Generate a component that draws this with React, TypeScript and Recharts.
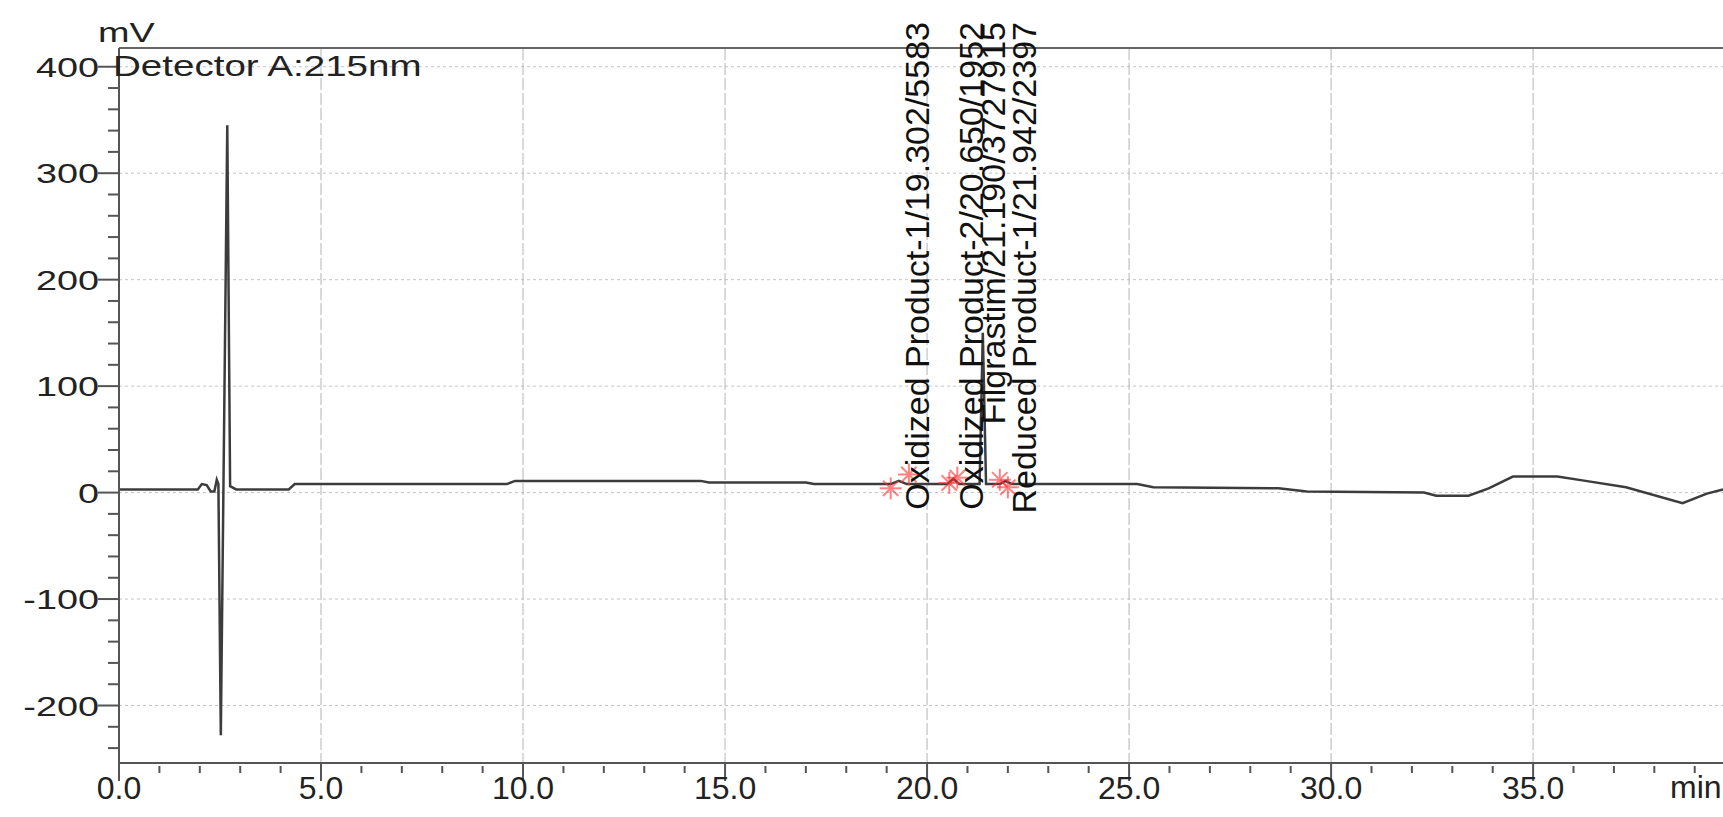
import React from "react"
import { ComposedChart, Line, Scatter, XAxis, YAxis, CartesianGrid, ReferenceLine } from "recharts"

// chromatogram trace (min, mV)
const TIME_MIN = [
  0, 1.2, 1.95, 2.05, 2.17, 2.27, 2.36, 2.42, 2.46, 2.52, 2.68, 2.75, 2.9, 4.2, 4.35, 9.6, 9.8,
  14.4, 14.6, 17.0, 17.2, 19.1, 19.3, 19.5, 20.5, 20.65, 20.8, 21.3, 21.38, 21.46, 21.8, 21.94,
  22.1, 25.2, 25.6, 28.7, 29.4, 32.3, 32.6, 33.4, 33.9, 34.5, 35.6, 36.3, 37.3, 38.7, 39.3, 39.7,
]
const SIGNAL_MV = [
  3, 3, 3, 8, 7, 1, 1, 12, 8, -228, 345, 6, 3, 3, 8, 8, 11,
  11, 9.5, 9.5, 8, 8, 11, 8, 8, 13, 8, 8, 150, 8, 8, 11,
  8, 8, 5, 4, 1, 0, -3, -3, 4, 15, 15, 11, 5, -10, -1, 3,
]

// integration marks
const MARK_MIN = [19.1, 19.55, 20.55, 20.75, 21.8, 22.0]
const MARK_MV = [4, 17, 9, 14, 12, 5]

// peak table
const PEAK_NAMES = ["Oxidized Product-1", "Oxidized Product-2", "Filgrastim", "Reduced Product-1"]
const PEAK_RT = [19.302, 20.65, 21.19, 21.942]
const PEAK_AREA = [5583, 1952, 3727915, 2397]

const X_MAX = 39.7
const Y_DOMAIN: [number, number] = [-254, 417.6]
const X_TICKS = Array.from({ length: 40 }, (_, i) => i)
const X_MAJOR = [5, 10, 15, 20, 25, 30, 35]
const Y_TICKS = Array.from({ length: 33 }, (_, i) => -240 + i * 20)
const Y_MAJOR = [-200, -100, 0, 100, 200, 300, 400]

const FONT = "'Liberation Sans', Arial, sans-serif"
const AXIS = "#555"
const LABEL_TOP = 22

const trace = TIME_MIN.map((t, i) => ({ t, mv: SIGNAL_MV[i] }))
const marks = MARK_MIN.map((t, i) => ({ t, mv: MARK_MV[i] }))
const peaks = PEAK_NAMES.map((name, i) => ({
  t: PEAK_RT[i],
  mv: 8,
  label: `${name}/${PEAK_RT[i].toFixed(3)}/${PEAK_AREA[i]}`,
}))

function XTick(props: any) {
  const { x, y, payload } = props
  const v = payload.value
  const major = v % 5 === 0
  return (
    <g>
      <line x1={x} x2={x} y1={major ? y : y + 3} y2={major ? y + 18 : y + 10} stroke={AXIS} strokeWidth={2} />
      {major && (
        <text x={x} y={y + 36} textAnchor="middle" fontSize={32} fontFamily={FONT} fill="#222">
          {v.toFixed(1)}
        </text>
      )}
    </g>
  )
}

function YTick(props: any) {
  const { x, y, payload } = props
  const v = payload.value
  const major = v % 100 === 0
  return (
    <g>
      <line x1={x - (major ? 21 : 11)} x2={x} y1={y} y2={y} stroke={AXIS} strokeWidth={2} />
      {major && (
        <text
          transform={`translate(${x - 20},${y + 10}) scale(1.35,1)`}
          textAnchor="end"
          fontSize={28}
          fontFamily={FONT}
          fill="#222"
        >
          {v}
        </text>
      )}
    </g>
  )
}

function Star(props: any) {
  const { cx, cy } = props
  const r = 11
  return (
    <g stroke="#ff3030" strokeWidth={2} opacity={0.6}>
      <line x1={cx - r} x2={cx + r} y1={cy} y2={cy} />
      <line x1={cx} x2={cx} y1={cy - r} y2={cy + r} />
      <line x1={cx - r * 0.7} x2={cx + r * 0.7} y1={cy - r * 0.7} y2={cy + r * 0.7} />
      <line x1={cx - r * 0.7} x2={cx + r * 0.7} y1={cy + r * 0.7} y2={cy - r * 0.7} />
    </g>
  )
}

function PeakLabel(props: any) {
  const { cx, payload } = props
  return (
    <text
      transform={`translate(${cx + 30},${LABEL_TOP}) rotate(-90)`}
      textAnchor="end"
      fontSize={34}
      fontFamily={FONT}
      fill="#111"
    >
      {payload.label}
    </text>
  )
}

export default function App() {
  return (
    <div style={{ position: "absolute", left: 0, top: 0, width: 1723, height: 817, background: "#fff" }}>
      <ComposedChart width={1723} height={817} margin={{ top: 48, right: 0, bottom: 0, left: 0 }}>
        <CartesianGrid horizontal vertical={false} horizontalValues={Y_MAJOR} stroke="#c4c4c4" strokeDasharray="3 3" />
        <CartesianGrid horizontal={false} vertical verticalValues={X_MAJOR} stroke="#b4b4b4" strokeDasharray="12 3" />
        <XAxis
          type="number"
          dataKey="t"
          domain={[0, X_MAX]}
          ticks={X_TICKS}
          interval={0}
          tick={<XTick />}
          tickLine={false}
          tickSize={0}
          tickMargin={0}
          height={54}
          axisLine={{ stroke: AXIS, strokeWidth: 2 }}
        />
        <YAxis
          type="number"
          dataKey="mv"
          domain={Y_DOMAIN}
          ticks={Y_TICKS}
          interval={0}
          tick={<YTick />}
          tickLine={false}
          tickSize={0}
          tickMargin={0}
          width={119}
          axisLine={{ stroke: AXIS, strokeWidth: 2 }}
        />
        <ReferenceLine y={Y_DOMAIN[1]} stroke="#666" strokeWidth={2} />
        <Line
          data={trace}
          dataKey="mv"
          type="linear"
          stroke="#3c3c3c"
          strokeWidth={2.5}
          dot={false}
          isAnimationActive={false}
        />
        <Scatter data={marks} dataKey="mv" shape={<Star />} isAnimationActive={false} />
        <Scatter data={peaks} dataKey="mv" shape={<PeakLabel />} isAnimationActive={false} />
      </ComposedChart>
      <svg
        width={1723}
        height={817}
        style={{ position: "absolute", left: 0, top: 0, pointerEvents: "none" }}
      >
        <text transform="translate(98,42) scale(1.35,1)" fontSize={28} fontFamily={FONT} fill="#222">
          mV
        </text>
        <text transform="translate(113,76) scale(1.33,1)" fontSize={29} fontFamily={FONT} fill="#222">
          Detector A:215nm
        </text>
        <text x={1670} y={798} fontSize={32} fontFamily={FONT} fill="#222">
          min
        </text>
      </svg>
    </div>
  )
}
